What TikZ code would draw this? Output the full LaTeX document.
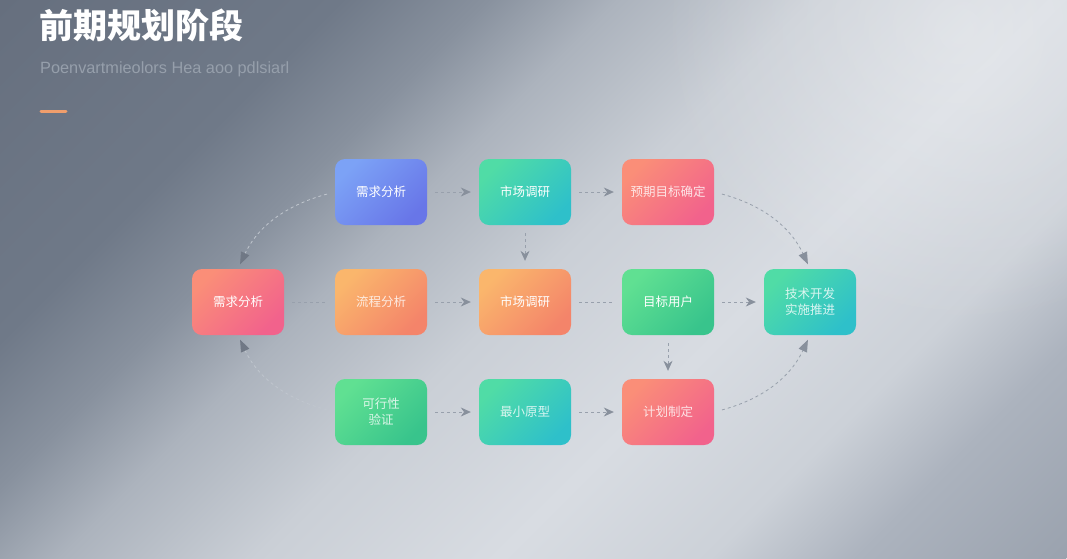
\documentclass[tikz,border=0pt]{standalone}
\usepackage{fontspec}
\setmainfont{Liberation Sans}
\newfontfamily\cjk{Noto Sans CJK SC}
\usetikzlibrary{arrows.meta, positioning, fadings}

\definecolor{bgc0}{RGB}{154, 162, 174}
\definecolor{bgc1}{RGB}{172, 179, 190}
\definecolor{bgc2}{RGB}{204, 209, 216}
\definecolor{bgc3}{RGB}{216, 220, 226}
\definecolor{bgc4}{RGB}{202, 207, 214}
\definecolor{bgc5}{RGB}{172, 179, 189}
\definecolor{bgc6}{RGB}{136, 145, 158}
\definecolor{bgc7}{RGB}{111, 121, 136}
\definecolor{bgc8}{RGB}{102, 111, 126}
\definecolor{subgray}{RGB}{150, 159, 171}
\definecolor{accent}{RGB}{240, 158, 108}
\definecolor{linkgray}{RGB}{152, 160, 172}
\definecolor{linklight}{RGB}{192, 198, 206}
\definecolor{tipgray}{RGB}{136, 144, 156}
\definecolor{tipdark}{RGB}{112, 120, 133}
\definecolor{blue1}{RGB}{124, 162, 246}
\definecolor{blue2}{RGB}{104, 118, 232}
\definecolor{teal1}{RGB}{80, 220, 166}
\definecolor{teal2}{RGB}{46, 192, 202}
\definecolor{coral1}{RGB}{250, 142, 120}
\definecolor{coral2}{RGB}{242, 98, 140}
\definecolor{orange1}{RGB}{250, 182, 108}
\definecolor{orange2}{RGB}{244, 132, 106}
\definecolor{green1}{RGB}{96, 224, 146}
\definecolor{green2}{RGB}{56, 196, 140}

\pgfdeclareverticalshading{bgshade}{100bp}{color(0bp)=(bgc0); color(25bp)=(bgc0); color(31.5bp)=(bgc1); color(36bp)=(bgc2); color(42.5bp)=(bgc3); color(50bp)=(bgc4); color(56bp)=(bgc5); color(60bp)=(bgc6); color(64.5bp)=(bgc7); color(75bp)=(bgc8); color(100bp)=(bgc8)}
\tikzfading[name=glowfade, inner color=transparent!0, outer color=transparent!100]

\tikzset{
  stepbox/.style={rounded corners=10pt, minimum width=92pt, minimum height=66pt, inner sep=2pt, align=center, text=white, font=\cjk\fontsize{12.5}{16}\selectfont},
  bluefill/.style={top color=blue1, bottom color=blue2, shading angle=45},
  tealfill/.style={top color=teal1, bottom color=teal2, shading angle=45},
  coralfill/.style={top color=coral1, bottom color=coral2, shading angle=45},
  orangefill/.style={top color=orange1, bottom color=orange2, shading angle=45},
  greenfill/.style={top color=green1, bottom color=green2, shading angle=45},
  faint/.style={text opacity=0.8},
  flow/.style={draw=linkgray, line width=0.8pt, dash pattern=on 3pt off 3pt, shorten <=8pt, shorten >=8pt},
  flowarrow/.style={flow, -{Stealth[length=10pt, width=9pt, color=tipgray]}},
  looparrow/.style={flow, shorten >=5pt, -{Triangle[length=12pt, width=9pt, color=tipgray]}},
  lightloop/.style={flow, draw=linklight, shorten >=5pt, -{Triangle[length=12pt, width=9pt, color=tipdark]}}
}

\begin{document}
\begin{tikzpicture}[x=1pt, y=1pt]
  \useasboundingbox (0,0) rectangle (1067,-558);

  % Background
  \begin{scope}[transform canvas={rotate around={45:(533.5,-279)}}]
    \shade[shading=bgshade] (-90,-853.6) rectangle (1157,295.6);
  \end{scope}
  \fill[white, opacity=0.3, path fading=glowfade] (960,-30) circle (300pt);

  % Title
  \node[anchor=north west, inner sep=0pt, text=white, font=\cjk\bfseries\fontsize{34}{37}\selectfont] (title) at (39,-9) {前期规划阶段};
  \node[anchor=base west, inner sep=0pt, text=subgray, font=\fontsize{16.3}{19}\selectfont] (subtitle) at (40,-73) {Poenvartmieolors Hea aoo pdlsiarl};
  \draw[accent, line width=3pt, line cap=round] (41,-111) -- (66,-111);

  % Top row
  \node[stepbox, bluefill] (a1) at (381,-192) {需求分析};
  \node[stepbox, tealfill] (a2) at (525,-192) {市场调研};
  \node[stepbox, coralfill, faint] (a3) at (668,-192) {预期目标确定};

  % Middle row
  \node[stepbox, coralfill] (b1) at (238,-302) {需求分析};
  \node[stepbox, orangefill, faint] (b2) at (381,-302) {流程分析};
  \node[stepbox, orangefill] (b3) at (525,-302) {市场调研};
  \node[stepbox, greenfill] (b4) at (668,-302) {目标用户};
  \node[stepbox, tealfill, faint] (b5) at (810,-302) {技术开发\\实施推进};

  % Bottom row
  \node[stepbox, greenfill, faint] (c1) at (381,-412) {可行性\\验证};
  \node[stepbox, tealfill, faint] (c2) at (525,-412) {最小原型};
  \node[stepbox, coralfill, faint] (c3) at (668,-412) {计划制定};

  % Straight links
  \draw[flowarrow] (a1) -- (a2);
  \draw[flowarrow] (a2) -- (a3);
  \draw[flowarrow] (a2) -- (b3);
  \draw[flow] (b1) -- (b2);
  \draw[flowarrow] (b2) -- (b3);
  \draw[flow] (b3) -- (b4);
  \draw[flowarrow] (b4) -- (b5);
  \draw[flowarrow] (b4) -- (c3);
  \draw[flowarrow] (c1) -- (c2);
  \draw[flowarrow] (c2) -- (c3);

  % Curved links
  \draw[lightloop] (a1.west) to[out=195, in=65] (b1.north);
  \draw[lightloop] (c1.west) to[out=165, in=-65] (b1.south);
  \draw[looparrow] (a3.east) to[out=-15, in=115] (b5.north);
  \draw[looparrow] (c3.east) to[out=15, in=-115] (b5.south);
\end{tikzpicture}
\end{document}
